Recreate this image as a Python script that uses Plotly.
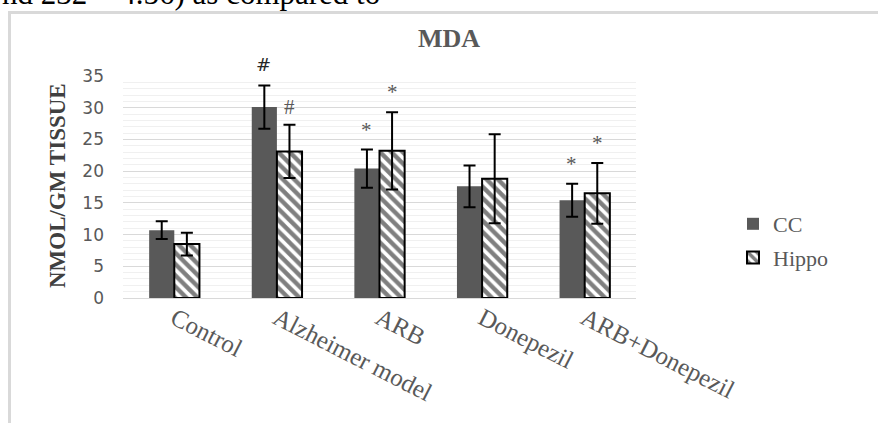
import plotly.graph_objects as go

categories = ["Control", "Alzheimer model", "ARB", "Donepezil", "ARB+Donepezil"]
cc_values = [10.7, 30.1, 20.4, 17.6, 15.4]
cc_errors = [1.4, 3.4, 3.0, 3.3, 2.6]
hippo_values = [8.5, 23.1, 23.2, 18.8, 16.5]
hippo_errors = [1.8, 4.2, 6.1, 7.0, 4.8]
y_ticks = [0, 5, 10, 15, 20, 25, 30, 35]

# significance marks: (category, series, symbol)
marks = [
    ("Alzheimer model", "CC", "#"),
    ("Alzheimer model", "Hippo", "#"),
    ("ARB", "CC", "*"),
    ("ARB", "Hippo", "*"),
    ("ARB+Donepezil", "CC", "*"),
    ("ARB+Donepezil", "Hippo", "*"),
]

SERIF = "Liberation Serif, Times New Roman, serif"
SANS = "DejaVu Sans, Arial, sans-serif"
GRAY = "#595959"

W, H = 878, 423
L, R, T, B = 123, 636, 76, 298


def px_x(p):
    return (p - L) / (R - L)


def px_y(p):
    return (B - p) / (B - T)


fig = go.Figure()
fig.add_trace(go.Bar(
    name="CC", x=categories, y=cc_values,
    marker=dict(color=GRAY, line=dict(width=0)),
    error_y=dict(type="data", array=cc_errors, color="black", thickness=2, width=6),
    legendgroup="a",
))
fig.add_trace(go.Bar(
    name="Hippo", x=categories, y=hippo_values,
    marker=dict(color="white", line=dict(color="black", width=2),
                pattern=dict(shape="\\", fgcolor="black", bgcolor="white", size=8, solidity=0.55)),
    error_y=dict(type="data", array=hippo_errors, color="black", thickness=2, width=6),
    legendgroup="b",
))

annotations = []
for cat, series, sym in marks:
    i = categories.index(cat)
    if series == "CC":
        top = cc_values[i] + cc_errors[i]
        shift = -13
    else:
        top = hippo_values[i] + hippo_errors[i]
        shift = 13
    first = (cat == "Alzheimer model" and series == "CC")
    annotations.append(dict(
        x=cat, y=top, xref="x", yref="y", text=sym, showarrow=False,
        xshift=shift, yanchor="bottom", yshift=9 if first else (4 if sym == "#" else 6),
        font=dict(family=SANS if first else SERIF, size=18 if first else 21,
                  color="#262626" if first else GRAY),
    ))

# chart title
annotations.append(dict(
    x=px_x(449), y=px_y(39), xref="paper", yref="paper", text="<b>MDA</b>",
    showarrow=False, xanchor="center", yanchor="middle",
    font=dict(family=SERIF, size=26, color=GRAY),
))
# y axis title
annotations.append(dict(
    x=px_x(57), y=px_y(186), xref="paper", yref="paper", text="<b>NMOL/GM TISSUE</b>",
    showarrow=False, xanchor="center", yanchor="middle", textangle=-90,
    font=dict(family=SERIF, size=23, color="#404040"),
))
# cropped document text above the chart
annotations.append(dict(
    x=px_x(0), y=px_y(13), xref="paper", yref="paper", text="nd 232 = 4.56) as compared to",
    showarrow=False, xanchor="left", yanchor="bottom",
    font=dict(family=SERIF, size=31, color="black"),
))

fig.update_layout(
    width=W, height=H,
    margin=dict(l=L, r=W - R, t=T, b=H - B, autoexpand=False),
    paper_bgcolor="white", plot_bgcolor="white",
    barmode="group", bargap=0.51, bargroupgap=0,
    showlegend=True,
    legend=dict(x=px_x(733), y=px_y(241), xanchor="left", yanchor="middle",
                font=dict(family=SERIF, size=22, color=GRAY),
                tracegroupgap=2, traceorder="grouped", bgcolor="rgba(0,0,0,0)"),
    annotations=annotations,
    shapes=[dict(type="rect", xref="paper", yref="paper",
                 x0=px_x(9.5), x1=px_x(900), y0=px_y(460), y1=px_y(12.5),
                 line=dict(color="#d9d9d9", width=3), fillcolor="rgba(0,0,0,0)", layer="below")],
)
fig.update_xaxes(
    tickangle=27, showline=False, ticks="", showgrid=False,
    tickfont=dict(family=SERIF, size=25, color=GRAY), automargin=False,
)
fig.update_yaxes(
    range=[0, 35], tickvals=y_ticks, showline=False, ticks="",
    showgrid=True, gridcolor="#d9d9d9", gridwidth=1,
    minor=dict(dtick=1, showgrid=True, gridcolor="#f0f0f0", gridwidth=1),
    zeroline=True, zerolinecolor="#d9d9d9", zerolinewidth=1,
    tickfont=dict(family=SANS, size=17, color=GRAY),
    ticklabelstandoff=18, automargin=False,
)

fig.write_html("out.html")
